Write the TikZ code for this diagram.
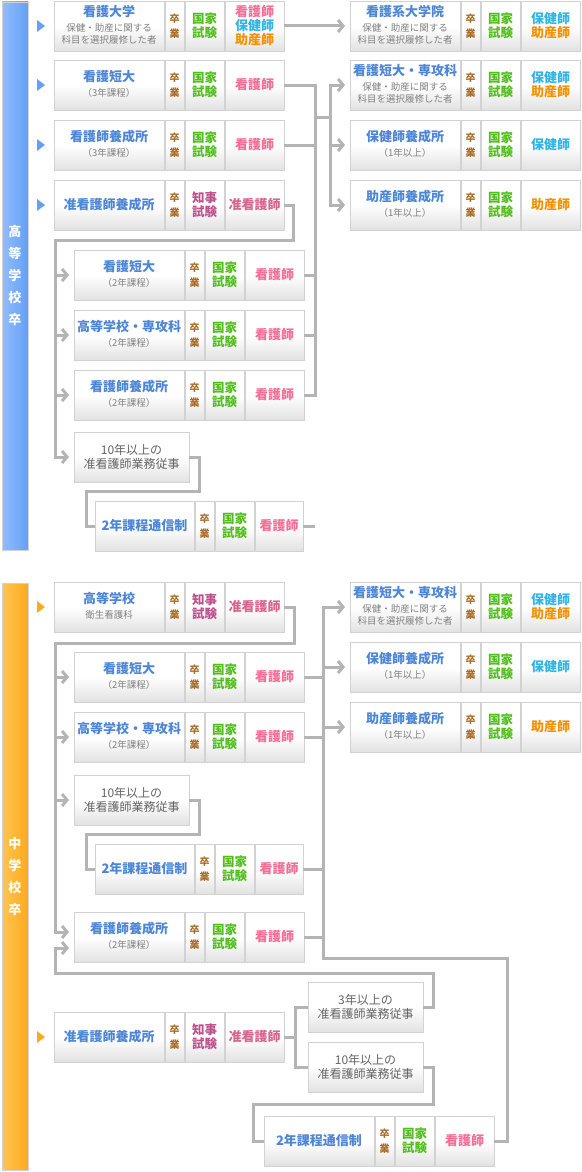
\documentclass[tikz,border=0pt]{standalone}
\usepackage{fontspec}
\setmainfont{Noto Sans CJK JP}
\usepackage{xcolor}
\usepackage{tikz}
\usetikzlibrary{positioning, arrows.meta}

\definecolor{boxline}{RGB}{210,210,210}
\definecolor{boxbot}{RGB}{226,226,226}
\definecolor{wire}{RGB}{180,180,180}
\definecolor{titleblue}{RGB}{78,134,214}
\definecolor{subgray}{RGB}{128,128,128}
\definecolor{worktext}{RGB}{100,100,100}
\definecolor{gradbrown}{RGB}{168,110,40}
\definecolor{natgreen}{RGB}{82,190,30}
\definecolor{prefpurple}{RGB}{190,80,140}
\definecolor{kangopink}{RGB}{245,110,150}
\definecolor{junpink}{RGB}{215,100,140}
\definecolor{hokencyan}{RGB}{50,180,230}
\definecolor{josanorange}{RGB}{245,145,0}
\definecolor{barblue}{RGB}{100,160,245}
\definecolor{barbluel}{RGB}{145,188,255}
\definecolor{barorange}{RGB}{255,170,30}
\definecolor{barorangel}{RGB}{255,196,80}

\newcommand{\sublines}[1]{{\fontsize{9.5}{10.5}\selectfont\mdseries\color{subgray}\begin{tabular}[t]{@{}c@{}}#1\end{tabular}}}
\newcommand{\course}[7][110pt]{%
  \node[maincell, minimum width=#1, anchor=north west] (#2) at #3 {#4};
  \node[gradcell, right=1pt of #2] (#2-g) {卒\\業};
  \node[examcell, text=#5, right=1pt of #2-g] (#2-e) {#6\\試験};
  \node[rescell, minimum width={#1-51pt}, right=1pt of #2-e] (#2-r) {#7};
}

\begin{document}
\begin{tikzpicture}[x=1pt, y=-1pt,
        cell/.style={draw=boxline, line width=0.8pt, outer sep=0pt, top color=white, bottom color=boxbot, middle color=white, minimum height=50pt, inner sep=0pt, align=center},
        maincell/.style={cell, text=titleblue, font=\fontsize{13}{15}\selectfont\bfseries},
        gradcell/.style={cell, minimum width=19pt, text=gradbrown, font=\fontsize{10}{15}\selectfont\bfseries},
        examcell/.style={cell, minimum width=39pt, font=\fontsize{12.5}{14}\selectfont\bfseries},
        rescell/.style={cell, text=kangopink, font=\fontsize{13}{14}\selectfont\bfseries},
        workbox/.style={cell, minimum width=115pt, text=worktext, font=\fontsize{12}{14}\selectfont},
        bar/.style={draw=boxline, line width=0.8pt, minimum width=26pt, inner sep=0pt, text=white, align=center, font=\fontsize{13}{22}\selectfont\bfseries},
        wire/.style={draw=wire, line width=3pt},
        arrow/.style={wire, -{Straight Barb[length=5pt, width=12pt]}, shorten >=5pt}
    ]
        \useasboundingbox (0,0) rectangle (581,1172);

        % side bars
        \node[bar, left color=barbluel, right color=barblue, minimum height=548pt] (hsbar) at (15,276) {高\\等\\学\\校\\卒};
        \node[bar, left color=barorangel, right color=barorange, minimum height=587pt] (jsbar) at (15,876.5) {中\\学\\校\\卒};

        % high school graduates
        \course{hs-univ}{(54,1)}{看護大学\\\sublines{保健・助産に関する\\科目を選択履修した者}}{natgreen}{国家}{看護師\\\textcolor{hokencyan}{保健師}\\\textcolor{josanorange}{助産師}}
        \course{hs-tandai}{(54,60)}{看護短大\\\sublines{（3年課程）}}{natgreen}{国家}{看護師}
        \course{hs-yosei}{(54,120)}{看護師養成所\\\sublines{（3年課程）}}{natgreen}{国家}{看護師}
        \course{hs-jun}{(54,180)}{准看護師養成所}{prefpurple}{知事}{\textcolor{junpink}{准看護師}}

        \course{hs-grad}{(350,1)}{看護系大学院\\\sublines{保健・助産に関する\\科目を選択履修した者}}{natgreen}{国家}{\textcolor{hokencyan}{保健師}\\\textcolor{josanorange}{助産師}}
        \course{hs-senko}{(350,60)}{看護短大・専攻科\\\sublines{保健・助産に関する\\科目を選択履修した者}}{natgreen}{国家}{\textcolor{hokencyan}{保健師}\\\textcolor{josanorange}{助産師}}
        \course{hs-hoken}{(350,120)}{保健師養成所\\\sublines{（1年以上）}}{natgreen}{国家}{\textcolor{hokencyan}{保健師}}
        \course{hs-josan}{(350,180)}{助産師養成所\\\sublines{（1年以上）}}{natgreen}{国家}{\textcolor{josanorange}{助産師}}

        \course{hs-tandai2}{(74,250)}{看護短大\\\sublines{（2年課程）}}{natgreen}{国家}{看護師}
        \course{hs-koto2}{(74,310)}{高等学校・専攻科\\\sublines{（2年課程）}}{natgreen}{国家}{看護師}
        \course{hs-yosei2}{(74,370)}{看護師養成所\\\sublines{（2年課程）}}{natgreen}{国家}{看護師}
        \node[workbox, anchor=north west] (hs-work10) at (74,432) {10年以上の\\准看護師業務従事};
        \course[99pt]{hs-tsushin}{(95,501)}{2年課程通信制}{natgreen}{国家}{看護師}

        % junior high school graduates
        \course{js-koto}{(54,582)}{高等学校\\\sublines{衛生看護科}}{prefpurple}{知事}{\textcolor{junpink}{准看護師}}
        \course{js-senko}{(350,582)}{看護短大・専攻科\\\sublines{保健・助産に関する\\科目を選択履修した者}}{natgreen}{国家}{\textcolor{hokencyan}{保健師}\\\textcolor{josanorange}{助産師}}
        \course{js-hoken}{(350,642)}{保健師養成所\\\sublines{（1年以上）}}{natgreen}{国家}{\textcolor{hokencyan}{保健師}}
        \course{js-josan}{(350,702)}{助産師養成所\\\sublines{（1年以上）}}{natgreen}{国家}{\textcolor{josanorange}{助産師}}

        \course{js-tandai2}{(74,652)}{看護短大\\\sublines{（2年課程）}}{natgreen}{国家}{看護師}
        \course{js-koto2}{(74,712)}{高等学校・専攻科\\\sublines{（2年課程）}}{natgreen}{国家}{看護師}
        \node[workbox, anchor=north west] (js-work10) at (74,775) {10年以上の\\准看護師業務従事};
        \course[99pt]{js-tsushin}{(95,844)}{2年課程通信制}{natgreen}{国家}{看護師}
        \course{js-yosei2}{(74,912)}{看護師養成所\\\sublines{（2年課程）}}{natgreen}{国家}{看護師}

        \course{js-jun}{(54,1012)}{准看護師養成所}{prefpurple}{知事}{\textcolor{junpink}{准看護師}}
        \node[workbox, anchor=north west] (js-work3) at (308,982) {3年以上の\\准看護師業務従事};
        \node[workbox, anchor=north west] (js-work10b) at (308,1042) {10年以上の\\准看護師業務従事};
        \course{js-tsushin2}{(264,1116)}{2年課程通信制}{natgreen}{国家}{看護師}

        % start markers
        \foreach \row in {hs-univ, hs-tandai, hs-yosei, hs-jun}
            \fill[barblue] ([xshift=-17pt, yshift=6pt]\row.west) -- ++(8,6) -- ++(-8,6) -- cycle;
        \foreach \row in {js-koto, js-jun}
            \fill[barorange] ([xshift=-17pt, yshift=6pt]\row.west) -- ++(8,6) -- ++(-8,6) -- cycle;

        % connectors, upper half
        \draw[arrow] (hs-univ-r.east) -- (hs-grad.west);
        \draw[wire] (hs-tandai-r.east) -- ++(31,0) coordinate (hcol) |- (hs-yosei2-r.east);
        \draw[wire] (hs-yosei-r.east) -- (hs-yosei-r.east -| hcol);
        \draw[wire] (hs-tandai2-r.east) -- (hs-tandai2-r.east -| hcol);
        \draw[wire] (hs-koto2-r.east) -- (hs-koto2-r.east -| hcol);
        \coordinate (hdist) at (330,117);
        \draw[wire] (hcol |- hdist) -- (hdist);
        \draw[arrow] (hdist) |- (hs-senko.west);
        \draw[arrow] (hdist) |- (hs-josan.west);
        \draw[arrow] (hs-hoken.west -| hdist) -- (hs-hoken.west);

        \coordinate (hleft) at (55,240);
        \draw[arrow] (hs-jun-r.east) -- ++(9,0) |- (hleft) |- (hs-work10.west);
        \draw[arrow] (hs-tandai2.west -| hleft) -- (hs-tandai2.west);
        \draw[arrow] (hs-koto2.west -| hleft) -- (hs-koto2.west);
        \draw[arrow] (hs-yosei2.west -| hleft) -- (hs-yosei2.west);
        \draw[wire] (hs-work10.east) -- ++(10,0) |- ++(-113,34) |- (hs-tsushin.west);
        \draw[wire] (hs-tsushin-r.east) -- ++(12,0);

        % connectors, lower half
        \coordinate (jleft) at (55,643);
        \draw[arrow] (js-koto-r.east) -- ++(10,0) |- (jleft) |- ([yshift=5pt]js-yosei2.west);
        \draw[arrow] (js-tandai2.west -| jleft) -- (js-tandai2.west);
        \draw[arrow] (js-koto2.west -| jleft) -- (js-koto2.west);
        \draw[arrow] (js-work10.west -| jleft) -- (js-work10.west);
        \draw[wire] (js-work10.east) -- ++(10,0) |- ++(-113,34) |- (js-tsushin.west);

        \coordinate (jcol) at (323,958);
        \draw[arrow] (js-tsushin2-r.east) -- ++(13,0) |- (jcol) |- (js-senko.west);
        \draw[wire] (js-tandai2-r.east) -- (js-tandai2-r.east -| jcol);
        \draw[wire] (js-koto2-r.east) -- (js-koto2-r.east -| jcol);
        \draw[wire] (js-tsushin-r.east) -- (js-tsushin-r.east -| jcol);
        \draw[wire] (js-yosei2-r.east) -- (js-yosei2-r.east -| jcol);
        \draw[arrow] (js-hoken.west -| jcol) -- (js-hoken.west);
        \draw[arrow] (js-josan.west -| jcol) -- (js-josan.west);

        \draw[wire] (js-jun-r.east) -- ++(11,0) coordinate (jfork);
        \draw[wire] (js-work3.west) -| (jfork) |- (js-work10b.west);
        \coordinate (jloop) at (55,973);
        \draw[arrow] (js-work3.east) -- ++(10,0) |- (jloop) |- ([yshift=-11pt]js-yosei2.west);
        \draw[wire] (js-work10b.east) -- ++(10,0) |- ++(-180,37) |- (js-tsushin2.west);
    \end{tikzpicture}
\end{document}
